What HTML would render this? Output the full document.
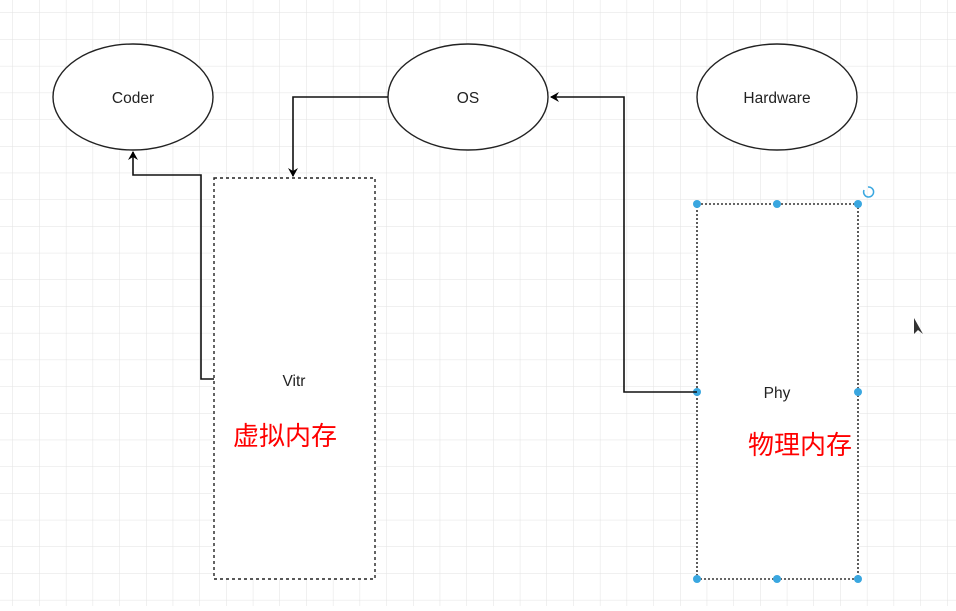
<!DOCTYPE html>
<html><head><meta charset="utf-8"><style>
html,body{margin:0;padding:0;background:#fff;}
body{width:956px;height:606px;overflow:hidden;}
</style></head><body>
<svg width="956" height="606" xmlns="http://www.w3.org/2000/svg" font-family="Liberation Sans, sans-serif">
<defs>
<pattern id="g" width="26.7" height="26.7" patternUnits="userSpaceOnUse" x="13" y="13">
<path d="M26.7 0V26.7H0" fill="none" stroke="#e2e2e2" stroke-width="1"/>
</pattern>
<marker id="a" markerWidth="10" markerHeight="10" refX="8" refY="5" orient="auto" markerUnits="userSpaceOnUse">
<path d="M0,0 L9,5 L0,10 L3,5 Z" fill="#000"/>
</marker>
</defs>
<rect width="956" height="606" fill="url(#g)"/>
<ellipse cx="133" cy="97" rx="80" ry="53" fill="#fff" stroke="#222" stroke-width="1.4"/>
<text x="133" y="103" font-size="15.5" text-anchor="middle" fill="#222">Coder</text>
<ellipse cx="468" cy="97" rx="80" ry="53" fill="#fff" stroke="#222" stroke-width="1.4"/>
<text x="468" y="103" font-size="15.5" text-anchor="middle" fill="#222">OS</text>
<ellipse cx="777" cy="97" rx="80" ry="53" fill="#fff" stroke="#222" stroke-width="1.4"/>
<text x="777" y="103" font-size="15.5" text-anchor="middle" fill="#222">Hardware</text>
<rect x="214" y="178" width="161" height="401" fill="#fff" stroke="#222" stroke-width="1.4" stroke-dasharray="3,3"/>
<text x="294" y="386" font-size="15.5" text-anchor="middle" fill="#222">Vitr</text>
<text x="233" y="445" font-size="26" fill="#f00" font-family="Liberation Sans, Noto Sans CJK SC, sans-serif">虚拟内存</text>
<rect x="697" y="204" width="161" height="375" fill="#fff" stroke="#333" stroke-width="1.6" stroke-dasharray="2,2"/>
<text x="777" y="398" font-size="15.5" text-anchor="middle" fill="#222">Phy</text>
<text x="748" y="454" font-size="26" fill="#f00" font-family="Liberation Sans, Noto Sans CJK SC, sans-serif">物理内存</text>
<g fill="#3aa7e0">
<circle cx="697" cy="204" r="4"/><circle cx="777" cy="204" r="4"/><circle cx="858" cy="204" r="4"/>
<circle cx="697" cy="392" r="4"/><circle cx="858" cy="392" r="4"/>
<circle cx="697" cy="579" r="4"/><circle cx="777" cy="579" r="4"/><circle cx="858" cy="579" r="4"/>
</g>
<path d="M864 190 a5 5 0 1 0 4 -3" fill="none" stroke="#3aa7e0" stroke-width="1.5"/>
<g fill="none" stroke="#111" stroke-width="1.6">
<path d="M388 97 H293 V176" marker-end="url(#a)"/>
<path d="M214 379 H201 V175 H133 V152" marker-end="url(#a)"/>
<path d="M697 392 H624 V97 H551" marker-end="url(#a)"/>
</g>
<path d="M914 318 L914 334 L918 330 L923 334 Z" fill="#333"/>
</svg>
</body></html>
